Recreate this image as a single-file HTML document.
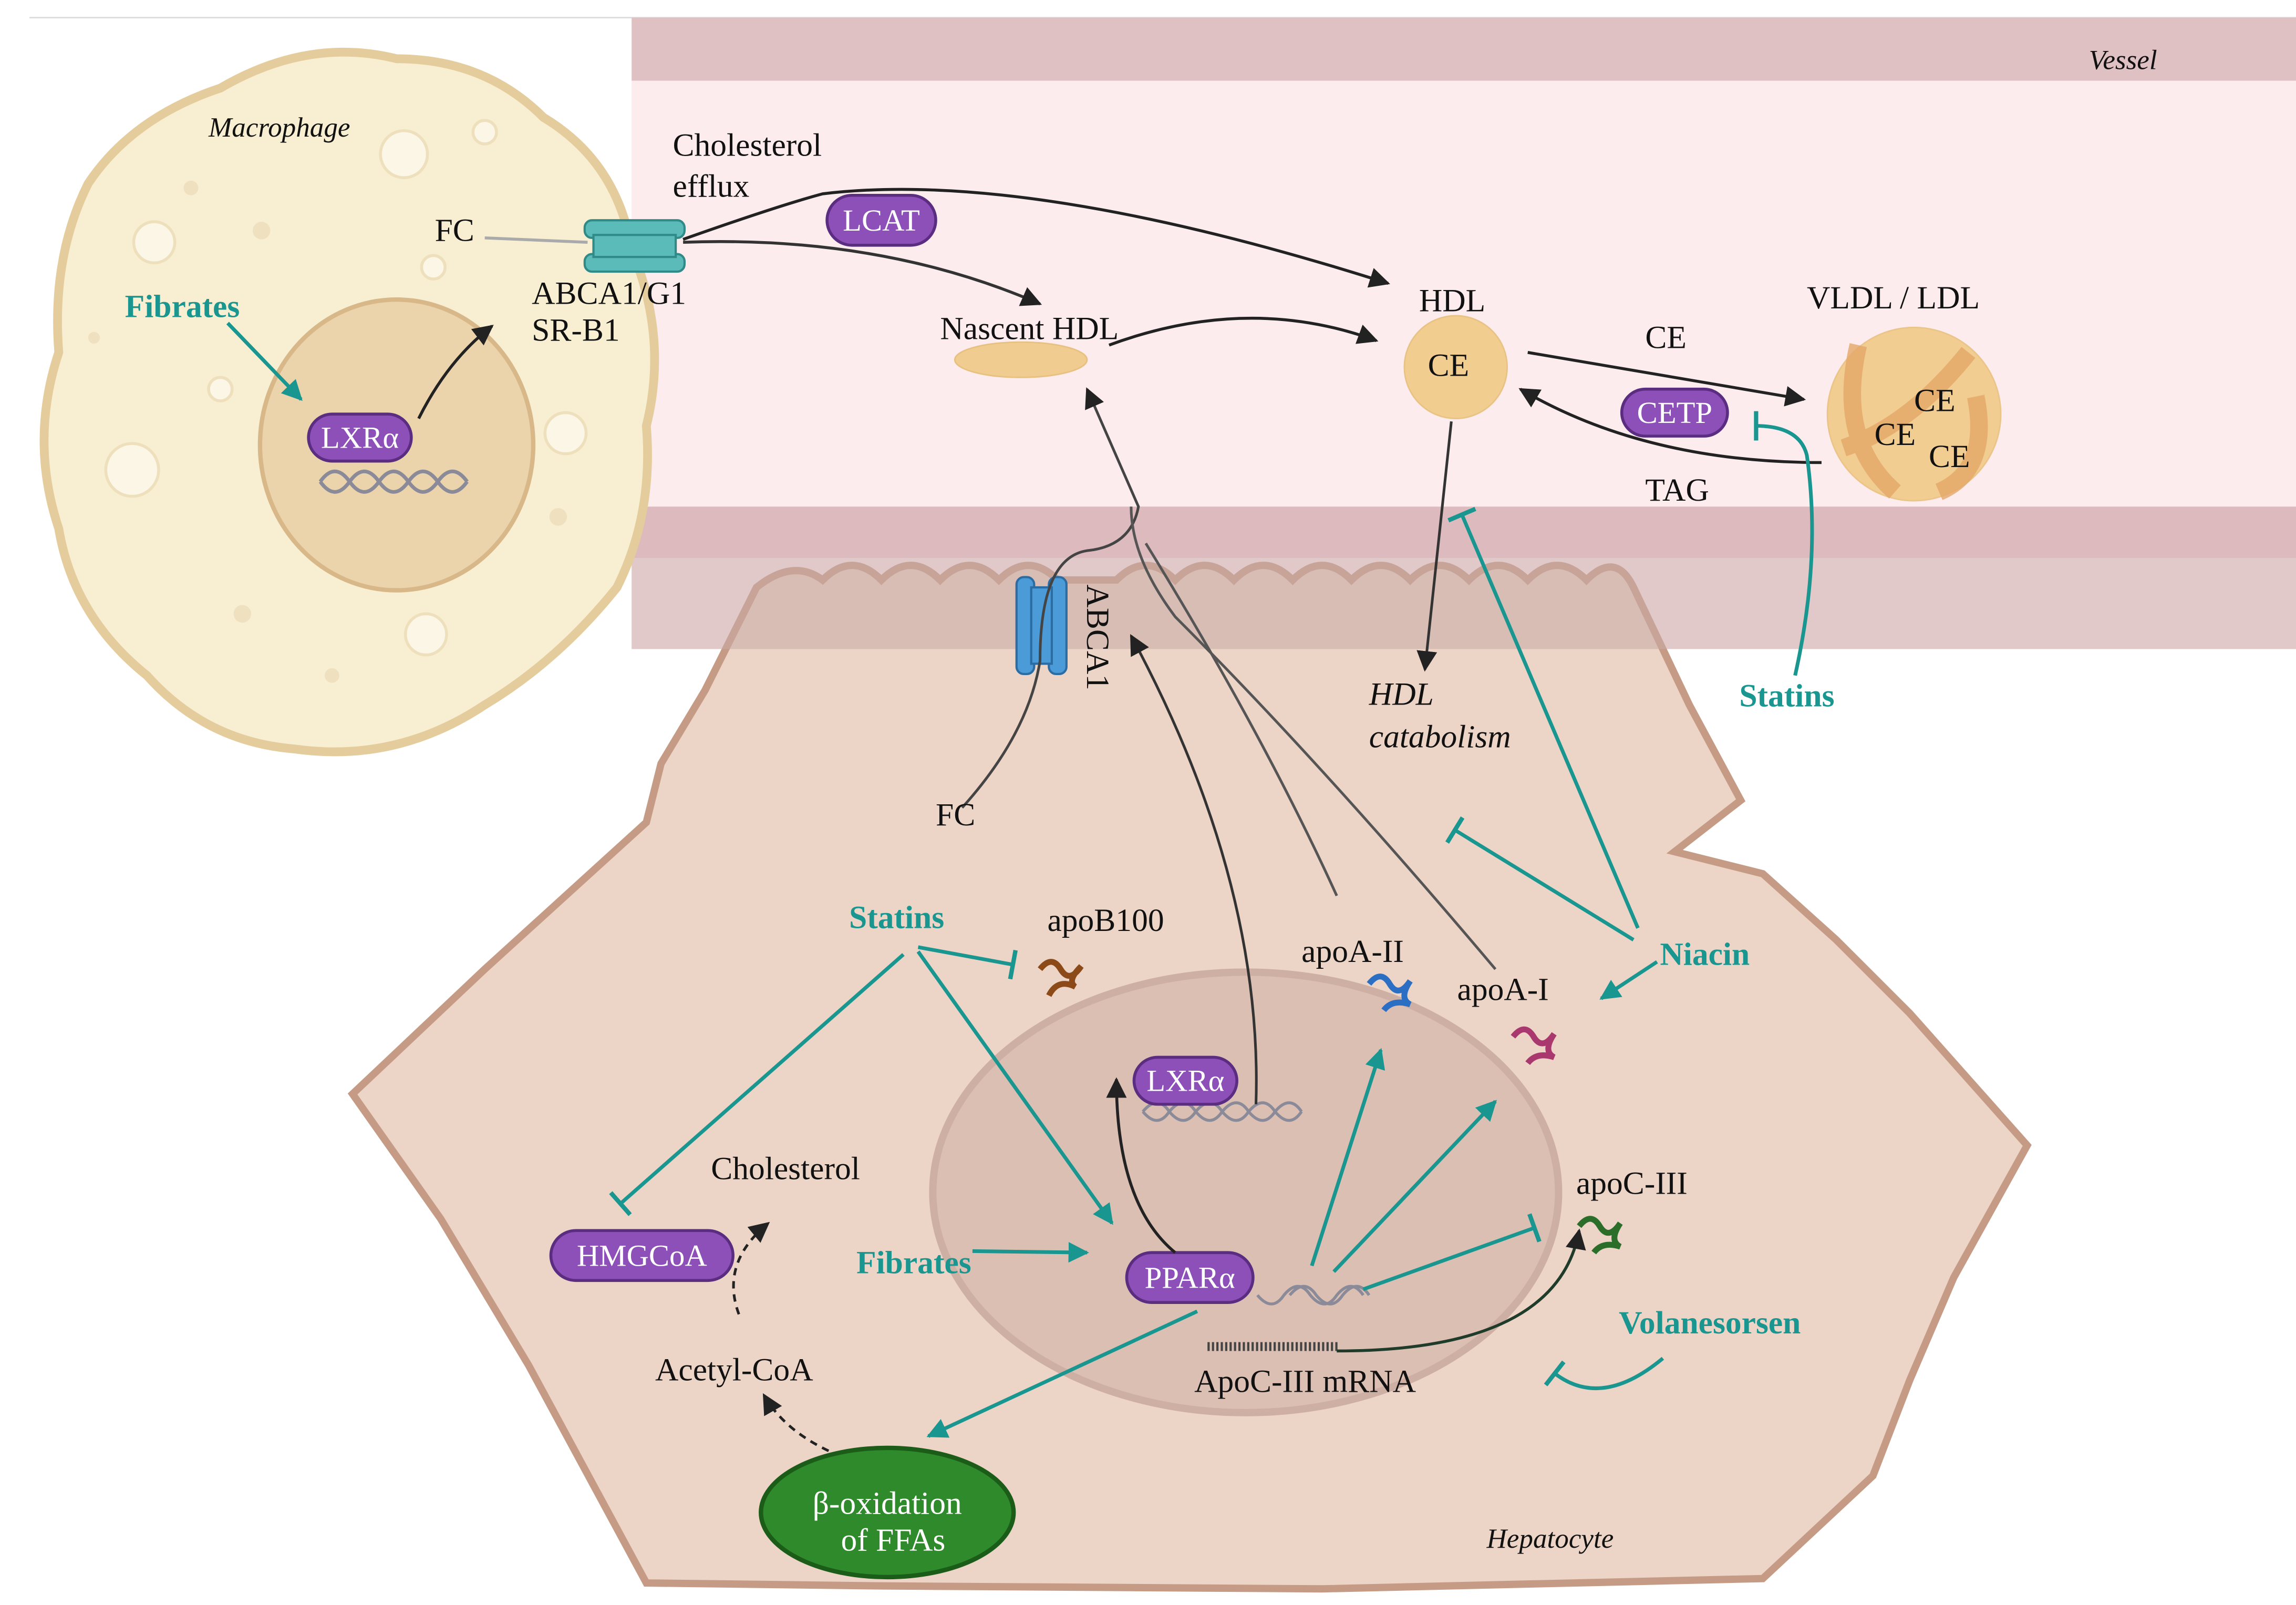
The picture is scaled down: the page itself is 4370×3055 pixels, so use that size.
<!DOCTYPE html>
<html><head><meta charset="utf-8"><style>
html,body{margin:0;padding:0;background:#fff;}
svg{display:block;}
text{font-family:"Liberation Serif",serif;}
.b{font-size:22px;fill:#111;}
.t{font-size:22px;fill:#1a9690;font-weight:bold;}
.p{font-size:21px;fill:#fff;}
</style></head><body>
<svg width="4370" height="3055" viewBox="0 0 1563 1093" preserveAspectRatio="none" xmlns="http://www.w3.org/2000/svg">
<defs>
<marker id="ak" markerWidth="8" markerHeight="8" refX="6" refY="4" orient="auto" markerUnits="userSpaceOnUse"><path d="M0,0 L8,4 L0,8 Z" fill="#222" transform="scale(1.6) translate(-2.5,-1.5)"/></marker>
<marker id="a" viewBox="0 0 10 10" refX="9" refY="5" markerWidth="14" markerHeight="14" orient="auto" markerUnits="userSpaceOnUse"><path d="M0,0 L10,5 L0,10 Z" fill="#222"/></marker>
<marker id="at" viewBox="0 0 10 10" refX="9" refY="5" markerWidth="14" markerHeight="14" orient="auto" markerUnits="userSpaceOnUse"><path d="M0,0 L10,5 L0,10 Z" fill="#1a9690"/></marker>
<marker id="bt" viewBox="0 0 4 20" refX="2" refY="10" markerWidth="4" markerHeight="20" orient="auto" markerUnits="userSpaceOnUse"><rect x="0" y="0" width="3" height="20" fill="#1a9690"/></marker>
</defs>
<rect width="1563" height="1093" fill="#fff"/>
<line x1="20" y1="12" x2="1563" y2="12" stroke="#ddd" stroke-width="1"/>
<!-- vessel -->
<rect x="430" y="12" width="1133" height="430" fill="#fcf0f0"/>
<rect x="430" y="12" width="1133" height="43" fill="#dfc1c4"/>
<rect x="430" y="55" width="1133" height="290" fill="#fcecee"/>
<!-- hepatocyte -->
<path d="M515,400 Q540,380 560,395 Q580,375 600,395 Q620,375 640,395 Q660,375 680,395 Q700,375 720,395 L760,395 Q780,375 800,395 Q820,375 840,395 Q860,375 880,395 Q900,375 920,395 Q940,375 960,395 Q980,375 1000,395 Q1020,375 1040,395 Q1060,375 1080,395 Q1100,375 1112,400 L1150,480 L1185,545 L1140,580 L1200,595 L1250,640 L1300,690 L1380,780 L1330,870 L1300,940 L1275,1005 L1200,1075 L900,1082 L600,1080 L440,1078 L360,930 L300,830 L240,745 L330,660 L440,560 L450,520 L480,470 Z" fill="#ecd4c6" stroke="#c69b85" stroke-width="5"/>
<rect x="430" y="345" width="1133" height="35" fill="#d9b4b8" opacity="0.9"/>
<rect x="430" y="380" width="1133" height="62" fill="#c9aaa8" opacity="0.55"/>
<text x="1422" y="47" font-size="19" font-style="italic" fill="#111">Vessel</text>
<!-- macrophage -->
<path d="M60,125 Q90,80 150,60 Q210,25 270,40 Q330,40 370,80 Q420,110 430,170 Q455,230 440,290 Q445,350 420,400 Q380,450 330,480 Q270,520 200,510 Q140,505 100,460 Q50,420 40,360 Q20,300 40,240 Q35,175 60,125 Z" fill="#f8efd2" stroke="#e5cc9c" stroke-width="6"/>
<g fill="#fbf6e6" stroke="#efe0bd" stroke-width="2">
<circle cx="275" cy="105" r="16"/><circle cx="105" cy="165" r="14"/><circle cx="90" cy="320" r="18"/><circle cx="385" cy="295" r="14"/><circle cx="290" cy="432" r="14"/><circle cx="150" cy="265" r="8"/><circle cx="295" cy="182" r="8"/><circle cx="330" cy="90" r="8"/>
</g>
<g fill="#efe1c0"><circle cx="178" cy="157" r="6"/><circle cx="130" cy="128" r="5"/><circle cx="380" cy="352" r="6"/><circle cx="165" cy="418" r="6"/><circle cx="64" cy="230" r="4"/><circle cx="226" cy="460" r="5"/></g>
<ellipse cx="270" cy="303" rx="93" ry="99" fill="#ebd4ab" stroke="#d8b888" stroke-width="3"/>
<text x="142" y="93" font-size="19" font-style="italic" fill="#111">Macrophage</text>
<text x="85" y="216" class="t">Fibrates</text>
<line x1="155" y1="220" x2="205" y2="272" stroke="#1a9690" stroke-width="2.5" marker-end="url(#at)"/>
<path d="M218,328 q10,-14 20,0 q10,14 20,0 q10,-14 20,0 q10,14 20,0 q10,-14 20,0 M218,328 q10,14 20,0 q10,-14 20,0 q10,14 20,0 q10,-14 20,0 q10,14 20,0" stroke="#8a8a98" stroke-width="2.5" fill="none"/>
<rect x="210" y="282" width="70" height="32" rx="16" fill="#8d4fb8" stroke="#5b2d80" stroke-width="2"/>
<text x="245" y="305" class="p" text-anchor="middle">LXRα</text>
<path d="M285,285 Q305,245 335,222" stroke="#222" stroke-width="2" fill="none" marker-end="url(#a)"/>
<text x="296" y="164" class="b">FC</text>
<text x="362" y="207" class="b">ABCA1/G1</text>
<text x="362" y="232" class="b">SR-B1</text>
<text x="458" y="106" class="b">Cholesterol</text>
<text x="458" y="134" class="b">efflux</text>
<!-- transporter -->
<g fill="#5bbbb8" stroke="#2f8a88" stroke-width="1.5">
<rect x="398" y="150" width="68" height="12" rx="5"/><rect x="398" y="173" width="68" height="12" rx="5"/><rect x="404" y="160" width="56" height="15"/>
</g>
<line x1="330" y1="162" x2="400" y2="165" stroke="#aaa" stroke-width="2"/>
<path d="M465,163 Q530,140 560,132 Q700,115 945,193" stroke="#222" stroke-width="2" fill="none" marker-end="url(#a)"/>
<path d="M465,165 Q600,160 708,207" stroke="#333" stroke-width="2" fill="none" marker-end="url(#a)"/>
<rect x="563" y="133" width="74" height="34" rx="17" fill="#8d4fb8" stroke="#5b2d80" stroke-width="2"/>
<text x="600" y="157" class="p" text-anchor="middle">LCAT</text>
<text x="640" y="231" class="b">Nascent HDL</text>
<ellipse cx="695" cy="245" rx="45" ry="12" fill="#f0cc90" stroke="#e8c080"/>
<path d="M755,235 Q850,200 937,232" stroke="#222" stroke-width="2" fill="none" marker-end="url(#a)"/>
<text x="966" y="212" class="b">HDL</text>
<circle cx="991" cy="250" r="35" fill="#f1cd90" stroke="#e8c383"/>
<text x="972" y="256" class="b">CE</text>
<text x="1120" y="237" class="b">CE</text>
<path d="M1040,240 Q1130,255 1228,272" stroke="#222" stroke-width="2" fill="none" marker-end="url(#a)"/>
<path d="M1240,315 Q1120,315 1035,265" stroke="#222" stroke-width="2" fill="none" marker-end="url(#a)"/>
<rect x="1104" y="265" width="72" height="32" rx="16" fill="#8d4fb8" stroke="#5b2d80" stroke-width="2"/>
<text x="1140" y="288" class="p" text-anchor="middle">CETP</text>
<text x="1120" y="341" class="b">TAG</text>
<text x="1230" y="210" class="b">VLDL /  LDL</text>
<circle cx="1303" cy="282" r="59" fill="#f1cd92" stroke="#ebc488"/>
<path d="M1265,235 Q1250,300 1290,335 M1340,240 Q1300,290 1255,305 M1345,270 Q1355,320 1320,335" stroke="#e3a868" stroke-width="12" fill="none" opacity="0.8"/>
<text x="1303" y="280" class="b">CE</text><text x="1276" y="303" class="b">CE</text><text x="1313" y="318" class="b">CE</text>
<path d="M1222,460 Q1240,380 1230,310 Q1225,290 1195,290" stroke="#1a9690" stroke-width="2.5" fill="none" marker-end="url(#bt)"/>
<text x="1184" y="481" class="t">Statins</text>
<!-- HDL catabolism -->
<line x1="988" y1="287" x2="970" y2="456" stroke="#333" stroke-width="1.8" marker-end="url(#a)"/>
<text x="932" y="480" font-size="22" font-style="italic" fill="#111">HDL</text>
<text x="932" y="509" font-size="22" font-style="italic" fill="#111">catabolism</text>
<!-- ABCA1 -->
<g fill="#4a9bd8" stroke="#2b6ca3" stroke-width="1.5"><rect x="692" y="393" width="12" height="66" rx="5"/><rect x="714" y="393" width="12" height="66" rx="5"/><rect x="702" y="400" width="14" height="52"/></g>
<text x="740" y="398" class="b" transform="rotate(90 740 398)">ABCA1</text>
<path d="M655,550 Q700,500 708,450 Q708,380 740,375 Q770,372 775,345 L740,265" stroke="#444" stroke-width="1.8" fill="none" marker-end="url(#a)"/>
<text x="637" y="562" class="b">FC</text>
<!-- hepatocyte nucleus -->
<ellipse cx="848" cy="812" rx="213" ry="150" fill="#dcbfb3" stroke="#ceafa3" stroke-width="5"/>
<path d="M778,757 q10,-12 18,0 q10,12 18,0 q10,-12 18,0 q10,12 18,0 q10,-12 18,0 q10,12 18,0 M778,757 q10,12 18,0 q10,-12 18,0 q10,12 18,0 q10,-12 18,0 q10,12 18,0 q10,-12 18,0" stroke="#8a8a98" stroke-width="2" fill="none"/>
<rect x="772" y="720" width="70" height="32" rx="16" fill="#8d4fb8" stroke="#5b2d80" stroke-width="2"/>
<text x="807" y="743" class="p" text-anchor="middle">LXRα</text>
<path d="M855,752 Q860,600 770,433" stroke="#333" stroke-width="1.8" fill="none" marker-end="url(#a)"/>
<path d="M910,610 Q860,500 780,370" stroke="#555" stroke-width="1.8" fill="none"/>
<path d="M1018,660 Q900,520 800,420 Q770,380 770,345" stroke="#555" stroke-width="1.8" fill="none"/>
<path d="M878,882 q10,-12 18,0 q10,12 18,0 q10,-12 18,0 M856,882 q10,12 18,0 q10,-12 18,0 q10,12 18,0 q10,-12 18,0" stroke="#8a8a98" stroke-width="2" fill="none"/>
<rect x="767" y="853" width="86" height="34" rx="17" fill="#8d4fb8" stroke="#5b2d80" stroke-width="2"/>
<text x="810" y="877" class="p" text-anchor="middle">PPARα</text>
<path d="M800,853 Q760,820 760,735" stroke="#222" stroke-width="2" fill="none" marker-end="url(#a)"/>
<line x1="822" y1="917" x2="912" y2="917" stroke="#444" stroke-width="6" stroke-dasharray="1.5 1.5"/>
<text x="813" y="948" class="b">ApoC-III mRNA</text>
<path d="M910,920 Q1060,920 1075,838" stroke="#1f3b2a" stroke-width="2" fill="none" marker-end="url(#a)"/>
<!-- teal arrows from PPAR -->
<g stroke="#1a9690" stroke-width="2.5" fill="none">
<line x1="893" y1="862" x2="940" y2="715" marker-end="url(#at)"/>
<line x1="908" y1="866" x2="1018" y2="750" marker-end="url(#at)"/>
<line x1="928" y1="878" x2="1045" y2="836" marker-end="url(#bt)"/>
<line x1="815" y1="893" x2="632" y2="978" marker-end="url(#at)"/>
<line x1="662" y1="852" x2="740" y2="853" marker-end="url(#at)"/>
<line x1="625" y1="648" x2="757" y2="833" marker-end="url(#at)"/>
<line x1="625" y1="645" x2="690" y2="657" marker-end="url(#bt)"/>
<line x1="615" y1="650" x2="422" y2="820" marker-end="url(#bt)"/>
<line x1="1115" y1="632" x2="995" y2="350" marker-end="url(#bt)"/>
<line x1="1112" y1="640" x2="990" y2="565" marker-end="url(#bt)"/>
<line x1="1128" y1="655" x2="1090" y2="680" marker-end="url(#at)"/>
<path d="M1132,925 Q1090,960 1058,935" marker-end="url(#bt)"/>
</g>
<text x="578" y="632" class="t">Statins</text>
<text x="713" y="634" class="b">apoB100</text>
<path d="M708,660 q8,-10 14,0 q6,10 14,-2 q-10,10 -4,14 q-12,-6 -18,6" stroke="#8b4a18" stroke-width="4" fill="none"/>
<text x="886" y="655" class="b">apoA-II</text>
<path d="M932,670 q8,-10 14,0 q6,10 14,-2 q-8,12 0,16 q-12,-4 -18,4" stroke="#2a6fc4" stroke-width="4" fill="none"/>
<text x="992" y="681" class="b">apoA-I</text>
<path d="M1030,706 q8,-10 14,0 q6,10 14,-2 q-8,12 0,16 q-12,-4 -18,4" stroke="#a8386e" stroke-width="4" fill="none"/>
<text x="1130" y="657" class="t">Niacin</text>
<text x="1073" y="813" class="b">apoC-III</text>
<path d="M1075,835 q8,-10 14,0 q6,10 14,-2 q-8,12 0,16 q-12,-4 -18,4" stroke="#2a6e2a" stroke-width="4" fill="none"/>
<text x="1102" y="908" class="t">Volanesorsen</text>
<text x="583" y="867" class="t">Fibrates</text>
<text x="484" y="803" class="b">Cholesterol</text>
<rect x="375" y="838" width="124" height="34" rx="17" fill="#8d4fb8" stroke="#5b2d80" stroke-width="2"/>
<text x="437" y="862" class="p" text-anchor="middle">HMGCoA</text>
<path d="M503,895 Q490,860 523,833" stroke="#222" stroke-width="1.8" fill="none" stroke-dasharray="5 4" marker-end="url(#a)"/>
<text x="446" y="940" class="b">Acetyl-CoA</text>
<path d="M598,1000 Q540,985 520,950" stroke="#222" stroke-width="1.8" fill="none" stroke-dasharray="5 4" marker-end="url(#a)"/>
<ellipse cx="604" cy="1030" rx="86" ry="44" fill="#2e8a2a" stroke="#1a5c18" stroke-width="3"/>
<text x="604" y="1031" class="b" text-anchor="middle" fill="#fff" style="fill:#fff">β-oxidation</text>
<text x="608" y="1056" class="b" text-anchor="middle" style="fill:#fff">of FFAs</text>
<text x="1012" y="1054" font-size="19" font-style="italic" fill="#111">Hepatocyte</text>
</svg>
</body></html>
